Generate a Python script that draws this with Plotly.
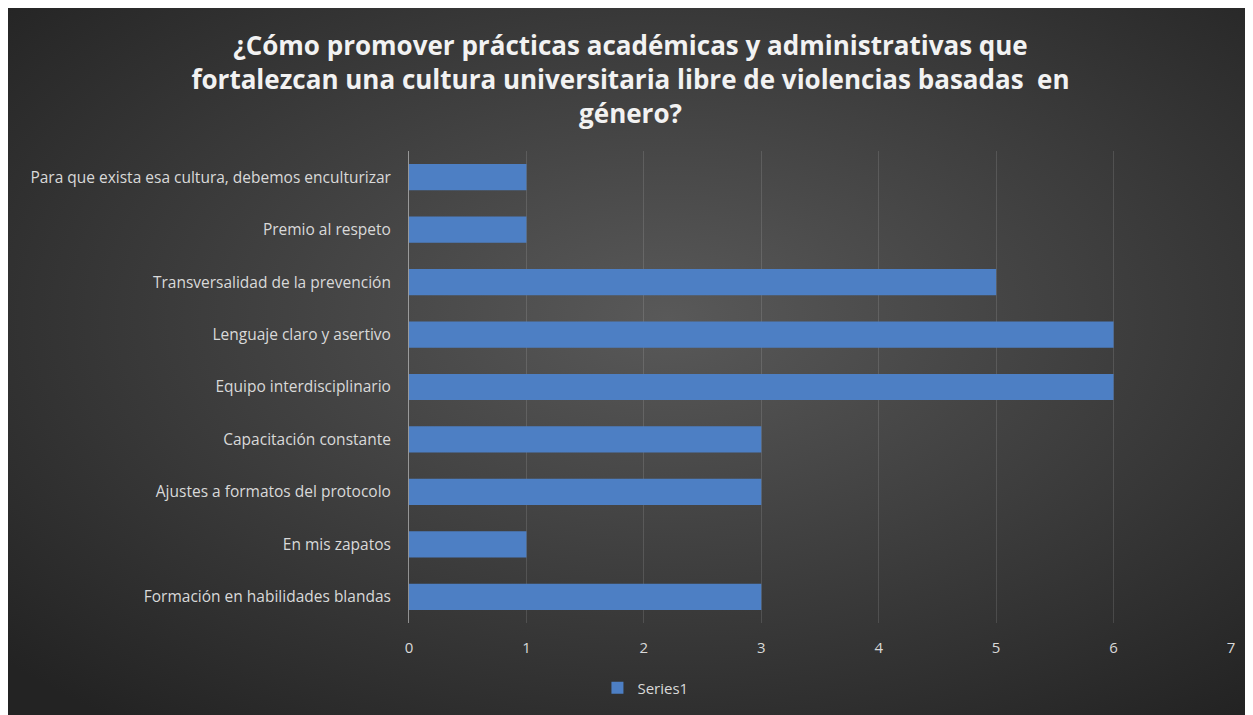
import base64
import plotly.graph_objects as go

categories = [
    "Formación en habilidades blandas",
    "En mis zapatos",
    "Ajustes a formatos del protocolo",
    "Capacitación constante",
    "Equipo interdisciplinario",
    "Lenguaje claro y asertivo",
    "Transversalidad de la prevención",
    "Premio al respeto",
    "Para que exista esa cultura, debemos enculturizar",
]
values = [3, 1, 3, 3, 6, 6, 5, 1, 1]
x_ticks = [0, 1, 2, 3, 4, 5, 6, 7]
series_name = "Series1"
title_text = ("¿Cómo promover prácticas académicas y administrativas que<br>"
              "fortalezcan una cultura universitaria libre de violencias basadas  en<br>"
              "género?")

# page has an 8px body margin; figure sized to fit the window
W, H = 1245, 707
ML, MR, MT, MB = 401, 22, 143, 92
PW, PH = W - ML - MR, H - MT - MB

svg = (
    '<svg xmlns="http://www.w3.org/2000/svg" width="1245" height="707" '
    'viewBox="0 0 1245 707" preserveAspectRatio="none">'
    '<defs><radialGradient id="g" cx="53%" cy="44%" r="72%" fx="53%" fy="44%">'
    '<stop offset="0%" stop-color="#595959"/>'
    '<stop offset="100%" stop-color="#232323"/>'
    '</radialGradient></defs>'
    '<rect width="1245" height="707" fill="url(#g)"/></svg>'
)
src = "data:image/svg+xml;base64," + base64.b64encode(svg.encode()).decode()

fig = go.Figure()
fig.add_trace(go.Bar(
    y=categories, x=values, orientation="h", name=series_name,
    marker=dict(color="#4d7fc4", line=dict(width=0)),
))

fig.update_layout(
    width=W, height=H,
    margin=dict(l=ML, r=MR, t=MT, b=MB, pad=0),
    paper_bgcolor="#2e2e2e",
    plot_bgcolor="rgba(0,0,0,0)",
    bargap=0.5,
    showlegend=True,
    title=dict(
        text=title_text, x=0.5, xanchor="center", xref="container",
        y=1 - 47 / H, yanchor="top", yref="container",
        font=dict(family="Open Sans", size=26, color="#f2f2f2", weight="bold"),
    ),
    legend=dict(
        orientation="h", x=0.512, xanchor="center", xref="container",
        y=1 - 680 / H, yanchor="middle", yref="container",
        font=dict(family="Open Sans", size=15, color="#d9d9d9"),
        bgcolor="rgba(0,0,0,0)", itemwidth=30,
    ),
    images=[dict(
        source=src, xref="paper", yref="paper",
        x=-ML / PW, y=(PH + MT) / PH,
        sizex=W / PW, sizey=H / PH,
        xanchor="left", yanchor="top", sizing="stretch", layer="below",
    )],
    xaxis=dict(
        range=[0, 7], tickvals=x_ticks, showgrid=True,
        gridcolor="rgba(255,255,255,0.12)", gridwidth=1,
        zeroline=False, showline=False,
        tickfont=dict(family="Open Sans", size=15, color="#d9d9d9"),
        ticklabelstandoff=14, fixedrange=True,
    ),
    yaxis=dict(
        showgrid=False, zeroline=False, showline=True,
        linecolor="rgba(255,255,255,0.45)", linewidth=1,
        tickfont=dict(family="Open Sans", size=15.5, color="#d9d9d9"),
        ticklabelstandoff=14, fixedrange=True,
    ),
)

fig.write_html("out.html")
